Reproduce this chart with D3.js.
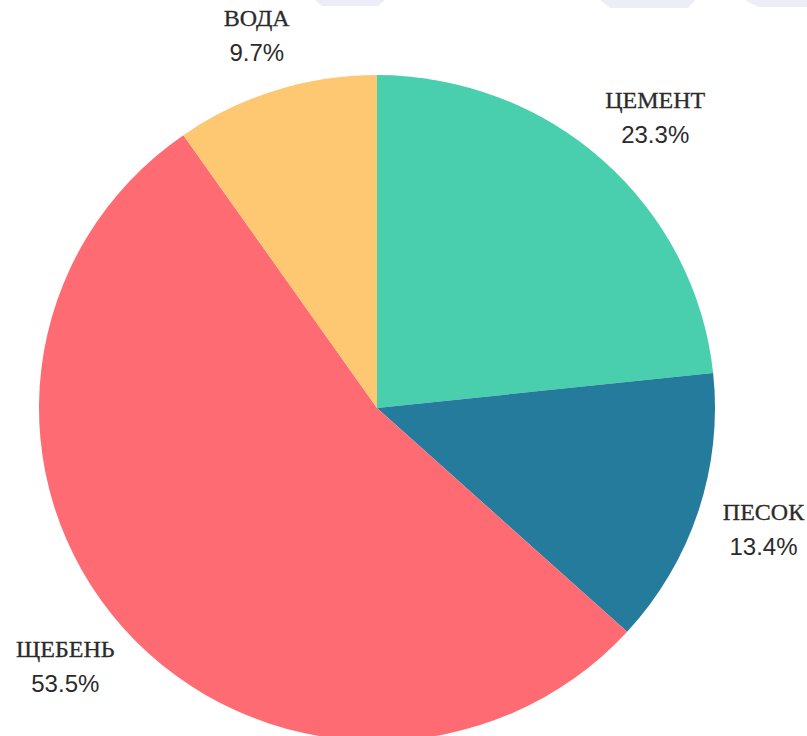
<!DOCTYPE html>
<html>
<head>
<meta charset="utf-8">
<script src="https://cdn.jsdelivr.net/npm/d3@7"></script>
<style>
  body { margin: 0; background: #fff; }
  svg { display: block; }
</style>
</head>
<body>
<svg id="chart" width="807" height="736"></svg>
<script>
const labels = ["ЦЕМЕНТ", "ПЕСОК", "ЩЕБЕНЬ", "ВОДА"];
const values = [23.3, 13.4, 53.5, 9.7];
const colors = ["#4acfae", "#247b9c", "#ff6b73", "#fec771"];

const svg = d3.select("#chart");
const cx = 377, cy = 408;
const radius = 338;
const squash = 0.985;

// faint watermark shapes peeking in at the top edge
const wm = svg.append("g").attr("fill", "#eceef7");
[[[315, 0], [385, 0], [378, 6], [322, 6]],
 [[600, 0], [695, 0], [688, 8], [610, 8]],
 [[745, 0], [807, 0], [807, 7], [758, 7]]].forEach(p => {
    wm.append("polygon").attr("points", p.map(d => d.join(",")).join(" "));
});

const pie = d3.pie().sort(null).value(d => d);
const arcs = pie(values);
const arc = d3.arc().innerRadius(0).outerRadius(radius);

const g = svg.append("g").attr("transform", `translate(${cx},${cy}) scale(1,${squash})`);

g.selectAll("path")
    .data(arcs)
    .join("path")
    .attr("d", arc)
    .attr("fill", (d, i) => colors[i]);

const labelG = svg.append("g").attr("transform", `translate(${cx},${cy})`);
const offset = 28;

arcs.forEach((a, i) => {
    const mid = (a.startAngle + a.endAngle) / 2;
    const dx = Math.sin(mid), dy = -Math.cos(mid);
    const t = labelG.append("text")
        .attr("text-anchor", "middle")
        .style("fill", "#2b2b2b");
    t.append("tspan")
        .attr("x", 0).attr("y", 0)
        .style("font-family", "'Liberation Serif', 'DejaVu Serif', serif")
        .style("font-size", "24px")
        .style("stroke", "#2b2b2b")
        .style("stroke-width", "0.3px")
        .text(labels[i]);
    t.append("tspan")
        .attr("x", 0).attr("y", 35)
        .style("font-family", "'Liberation Sans', Arial, sans-serif")
        .style("font-size", "24px")
        .text(d3.format(".1f")(values[i]) + "%");
    const bb = t.node().getBBox();
    const px = dx * (radius + offset);
    const py = dy * (radius + offset) * squash;
    const tx = px + dx * bb.width / 2 - (bb.x + bb.width / 2);
    const ty = py + dy * bb.height / 2 - (bb.y + bb.height / 2);
    t.attr("transform", `translate(${tx},${ty})`);
});
</script>
</body>
</html>
